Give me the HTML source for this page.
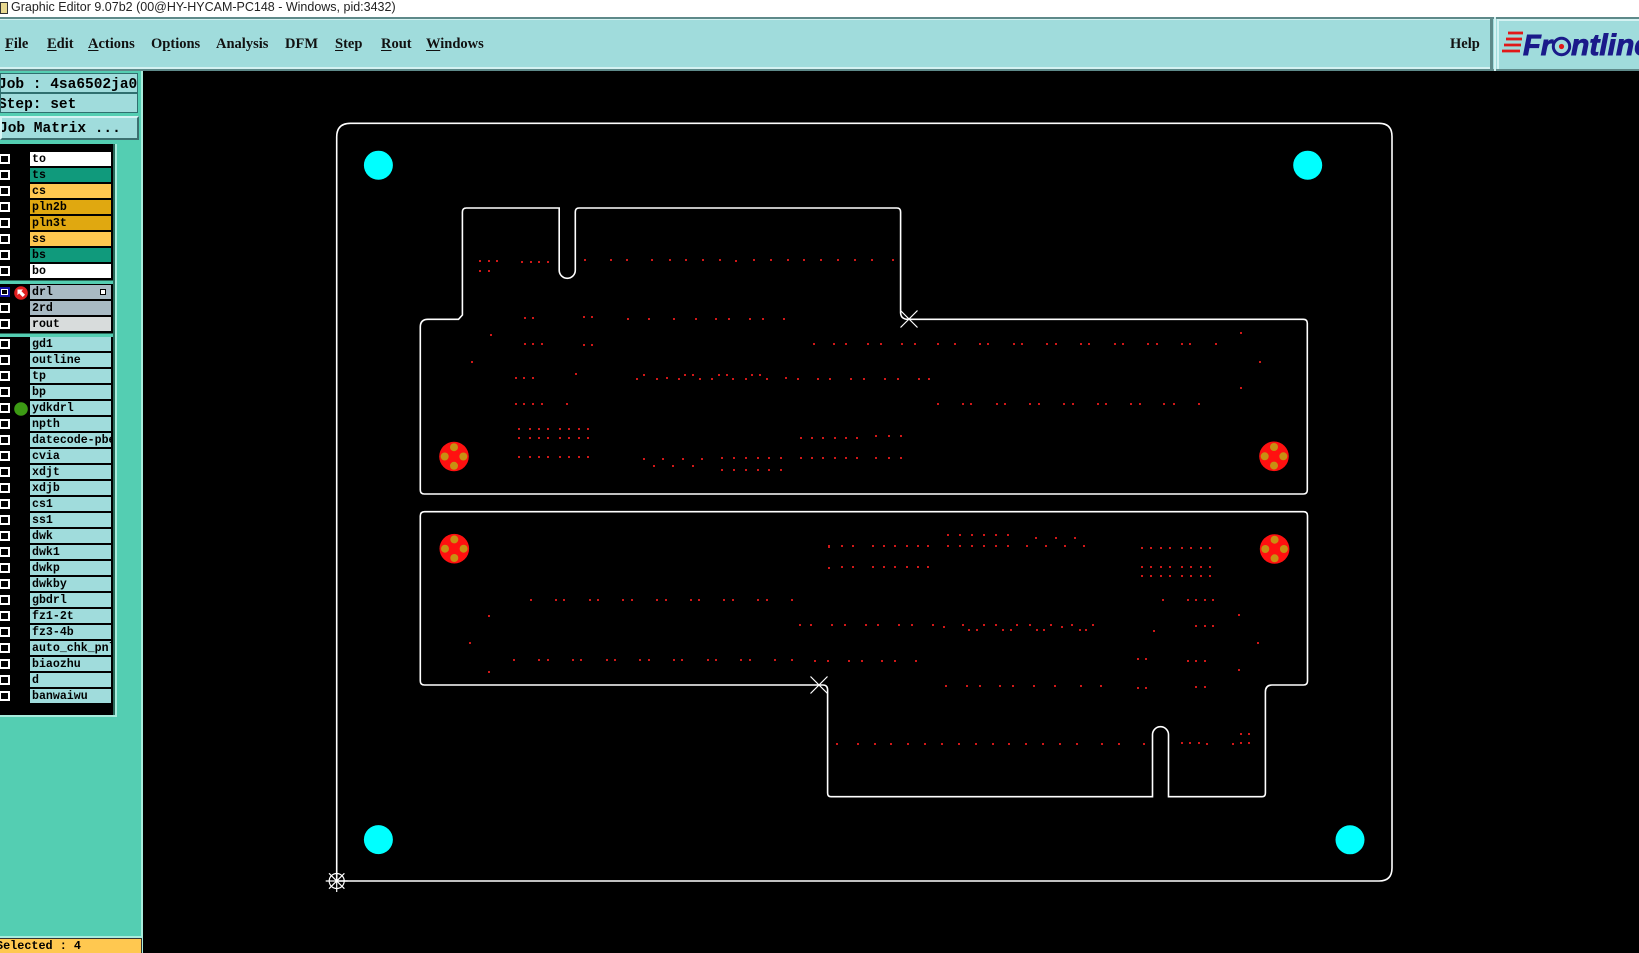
<!DOCTYPE html>
<html><head><meta charset="utf-8">
<style>
*{margin:0;padding:0;box-sizing:border-box}
html,body{width:1639px;height:953px;overflow:hidden;background:#000}
#root{position:relative;width:1639px;height:953px;overflow:hidden;background:#000}
.abs{position:absolute}
.menu{position:absolute;top:36px;font:bold 14.5px "Liberation Serif",serif;color:#111;white-space:nowrap}
.menu u{text-decoration:underline;text-underline-offset:2px}
.lbl{position:absolute;left:30px;width:81px;height:14px;font:bold 11.6px/15px "Liberation Mono",monospace;padding-left:2px;color:#000;overflow:hidden;white-space:nowrap}
.cb{position:absolute;left:-1px;width:11px;height:10px;border:2px solid #fff;background:#000}
.info{position:absolute;left:0;width:138px;background:#a0dcdc;border:1px solid #2f6f6f;font:bold 14.5px/22px "Liberation Mono",monospace;color:#000;white-space:nowrap;overflow:hidden}
</style></head><body><div id="root">

<!-- title bar -->
<div class="abs" style="left:0;top:0;width:1639px;height:17px;background:#fff"></div>
<div class="abs" style="left:0;top:2px;width:8px;height:12px;background:#e8d890;border:1px solid #333"></div>
<div class="abs" style="left:11px;top:0;font:12.5px/15px 'Liberation Sans',sans-serif;color:#222;white-space:nowrap">Graphic Editor 9.07b2 (00@HY-HYCAM-PC148 - Windows, pid:3432)</div>

<!-- menu bar -->
<div class="abs" style="left:0;top:17px;width:1639px;height:54px;background:#a0dcdc;border-top:2px solid #5e8a8a;border-bottom:2px solid #5e8a8a"></div>
<div class="abs" style="left:0;top:19px;width:1492px;height:1px;background:#d4f2f2"></div>
<div class="abs" style="left:0;top:67px;width:1492px;height:2px;background:#d4f2f2"></div>
<div class="abs" style="left:1490px;top:19px;width:3px;height:50px;background:#5e8a8a"></div>
<div class="abs" style="left:1494px;top:17px;width:2px;height:54px;background:#d4f2f2"></div>
<div class="abs" style="left:1497px;top:19px;width:142px;height:2px;background:#d4f2f2"></div>
<div class="abs" style="left:1497px;top:19px;width:2px;height:50px;background:#d4f2f2"></div>

<div class="menu" style="left:5px"><u>F</u>ile</div>
<div class="menu" style="left:47px"><u>E</u>dit</div>
<div class="menu" style="left:88px"><u>A</u>ctions</div>
<div class="menu" style="left:151px">O<u>p</u>tions</div>
<div class="menu" style="left:216px">Analysis</div>
<div class="menu" style="left:285px">DFM</div>
<div class="menu" style="left:335px"><u>S</u>tep</div>
<div class="menu" style="left:381px"><u>R</u>out</div>
<div class="menu" style="left:426px"><u>W</u>indows</div>
<div class="menu" style="left:1450px">Help</div>

<!-- logo -->
<svg class="abs" style="left:1497px;top:21px" width="142" height="48" viewBox="1497 21 142 48">
 <g stroke="#e01818" stroke-width="2.8">
  <line x1="1508" y1="33" x2="1523" y2="33"/>
  <line x1="1506" y1="39" x2="1522" y2="39"/>
  <line x1="1504" y1="45" x2="1521" y2="45"/>
  <line x1="1502" y1="51" x2="1520" y2="51"/>
 </g>
 <text x="1523" y="55" font-family="Liberation Sans, sans-serif" font-weight="bold" font-style="italic" font-size="29" fill="#1a1a8a" stroke="#1a1a8a" stroke-width="0.9">Fr</text>
 <circle cx="1561.5" cy="46.5" r="8.2" fill="none" stroke="#1a1a8a" stroke-width="3"/>
 <circle cx="1561.5" cy="46.5" r="2.6" fill="#e01818"/>
 <text x="1571" y="55" font-family="Liberation Sans, sans-serif" font-weight="bold" font-style="italic" font-size="30" fill="#1a1a8a" stroke="#1a1a8a" stroke-width="0.9">ntline</text>
</svg>

<!-- left panel -->
<div class="abs" style="left:0;top:71px;width:143px;height:882px;background:#54ceb2"></div>
<div class="abs" style="left:141px;top:71px;width:2px;height:882px;background:#a8ecdc"></div>
<div class="info" style="top:73px;height:20px;left:0"><span style="position:relative;left:-3px">Job : 4sa6502ja0</span></div>
<div class="info" style="top:93px;height:20px;left:0"><span style="position:relative;left:-3px">Step: set</span></div>
<div class="abs" style="left:0;top:116px;width:139px;height:24px;background:#a0dcdc;border-top:2px solid #d4f4f4;border-left:2px solid #d4f4f4;border-right:2px solid #3c7070;border-bottom:2px solid #3c7070;font:bold 14.5px/22px 'Liberation Mono',monospace;white-space:nowrap;overflow:hidden"><span style="position:relative;left:-3px">Job Matrix ...</span></div>

<!-- list frame -->
<div class="abs" style="left:0;top:144px;width:117px;height:573px;background:#000;border-right:2px solid #a8ecdc;border-bottom:2px solid #a8ecdc"></div>
<div class="abs" style="left:113px;top:144px;width:2px;height:571px;background:#2a6a5a"></div>
<div class="abs" style="left:0;top:280px;width:113px;height:4px;background:#54ceb2;border-top:1px solid #2a6a5a"></div>
<div class="abs" style="left:0;top:333px;width:113px;height:4px;background:#54ceb2;border-top:1px solid #2a6a5a"></div>

<!-- group 1 -->
<div class="cb" style="top:154px"></div><div class="lbl" style="top:152px;background:#fff">to</div>
<div class="cb" style="top:170px"></div><div class="lbl" style="top:168px;background:#109a7c">ts</div>
<div class="cb" style="top:186px"></div><div class="lbl" style="top:184px;background:#ffc850">cs</div>
<div class="cb" style="top:202px"></div><div class="lbl" style="top:200px;background:#e0a810">pln2b</div>
<div class="cb" style="top:218px"></div><div class="lbl" style="top:216px;background:#e0a810">pln3t</div>
<div class="cb" style="top:234px"></div><div class="lbl" style="top:232px;background:#ffc850">ss</div>
<div class="cb" style="top:250px"></div><div class="lbl" style="top:248px;background:#109a7c">bs</div>
<div class="cb" style="top:266px"></div><div class="lbl" style="top:264px;background:#fff">bo</div>
<!-- group 2 -->
<div class="cb" style="top:287px;border-color:#1414a8;background:#fff"></div>
<div class="abs" style="left:1px;top:289px;width:7px;height:6px;background:#000;border:1px solid #fff"></div>
<svg class="abs" style="left:14px;top:286px" width="14" height="14"><circle cx="7" cy="7" r="6.8" fill="#e02020"/><path d="M3.5 3.5 L9 3.5 L7.4 5.1 L11 8.7 L8.7 11 L5.1 7.4 L3.5 9 Z" fill="#fff"/></svg>
<div class="lbl" style="top:285px;background:#a8bac4">drl<span style="position:absolute;left:70px;top:4px;width:6px;height:6px;border:1px solid #000;background:#fff"></span></div>
<div class="cb" style="top:303px"></div><div class="lbl" style="top:301px;background:#a8bac4">2rd</div>
<div class="cb" style="top:319px"></div><div class="lbl" style="top:317px;background:#d8dcdc">rout</div>
<!-- group 3 -->
<div class="cb" style="top:339px"></div><div class="lbl" style="top:337px;background:#a0dcdc">gd1</div>
<div class="cb" style="top:355px"></div><div class="lbl" style="top:353px;background:#a0dcdc">outline</div>
<div class="cb" style="top:371px"></div><div class="lbl" style="top:369px;background:#a0dcdc">tp</div>
<div class="cb" style="top:387px"></div><div class="lbl" style="top:385px;background:#a0dcdc">bp</div>
<div class="cb" style="top:403px"></div><div class="lbl" style="top:401px;background:#a0dcdc">ydkdrl</div>
<svg class="abs" style="left:14px;top:402px" width="14" height="14"><circle cx="7" cy="7" r="6.8" fill="#3c9a14"/></svg>
<div class="cb" style="top:419px"></div><div class="lbl" style="top:417px;background:#a0dcdc">npth</div>
<div class="cb" style="top:435px"></div><div class="lbl" style="top:433px;background:#a0dcdc">datecode-pbe</div>
<div class="cb" style="top:451px"></div><div class="lbl" style="top:449px;background:#a0dcdc">cvia</div>
<div class="cb" style="top:467px"></div><div class="lbl" style="top:465px;background:#a0dcdc">xdjt</div>
<div class="cb" style="top:483px"></div><div class="lbl" style="top:481px;background:#a0dcdc">xdjb</div>
<div class="cb" style="top:499px"></div><div class="lbl" style="top:497px;background:#a0dcdc">cs1</div>
<div class="cb" style="top:515px"></div><div class="lbl" style="top:513px;background:#a0dcdc">ss1</div>
<div class="cb" style="top:531px"></div><div class="lbl" style="top:529px;background:#a0dcdc">dwk</div>
<div class="cb" style="top:547px"></div><div class="lbl" style="top:545px;background:#a0dcdc">dwk1</div>
<div class="cb" style="top:563px"></div><div class="lbl" style="top:561px;background:#a0dcdc">dwkp</div>
<div class="cb" style="top:579px"></div><div class="lbl" style="top:577px;background:#a0dcdc">dwkby</div>
<div class="cb" style="top:595px"></div><div class="lbl" style="top:593px;background:#a0dcdc">gbdrl</div>
<div class="cb" style="top:611px"></div><div class="lbl" style="top:609px;background:#a0dcdc">fz1-2t</div>
<div class="cb" style="top:627px"></div><div class="lbl" style="top:625px;background:#a0dcdc">fz3-4b</div>
<div class="cb" style="top:643px"></div><div class="lbl" style="top:641px;background:#a0dcdc">auto_chk_pnl</div>
<div class="cb" style="top:659px"></div><div class="lbl" style="top:657px;background:#a0dcdc">biaozhu</div>
<div class="cb" style="top:675px"></div><div class="lbl" style="top:673px;background:#a0dcdc">d</div>
<div class="cb" style="top:691px"></div><div class="lbl" style="top:689px;background:#a0dcdc">banwaiwu</div>

<!-- status -->
<div class="abs" style="left:0;top:936px;width:143px;height:2px;background:#a8ecdc"></div>
<div class="abs" style="left:0;top:938px;width:142px;height:15px;background:#ffc850;border-top:1px solid #333;border-right:1px solid #333;font:bold 11.8px/14px 'Liberation Mono',monospace;white-space:nowrap;overflow:hidden"><span style="position:relative;left:-4px">Selected : 4</span></div>

<!-- board -->
<svg class="abs" style="left:0;top:0" width="1639" height="953" viewBox="0 0 1639 953">
 <g fill="none" stroke="#fff" stroke-width="1.6">
  <path d="M336.7 881 L336.7 137 Q336.7 123.3 350.5 123.3 L1379 123.3 Q1392 123.3 1392 136.5 L1392 868 Q1392 881 1379 881 Z"/>
  <path d="M462.4 212 Q462.4 208 466.4 208 L559.2 208 L559.2 270.3 A8 8 0 0 0 575.3 270.3 L575.3 212 Q575.3 208 579 208 L897 208 Q900.6 208 900.6 212 L900.6 313 Q901 319.3 908 319.3 L1303.3 319.3 Q1307.3 319.3 1307.3 323.3 L1307.3 490 Q1307.3 494 1303.3 494 L424.3 494 Q420.3 494 420.3 490 L420.3 327 Q420.3 319.3 428 319.3 L458.5 319.3 L462.4 315 Z"/>
  <path d="M420.3 516 Q420.3 511.7 424.5 511.7 L1303.5 511.7 Q1307.5 511.7 1307.5 515.7 L1307.5 681 Q1307.5 685 1303.5 685 L1272 685 Q1265.4 685 1265.4 692 L1265.4 793 Q1265.4 796.7 1262 796.7 L1168.5 796.7 L1168.5 734.7 A8 8 0 0 0 1152.5 734.7 L1152.5 796.7 L831 796.7 Q827.6 796.7 827.6 793 L827.6 690 Q827.6 685 823 685 L424.5 685 Q420.3 685 420.3 681 Z"/>
 </g>
 <g stroke="#fff" stroke-width="1.2">
  <line x1="900.5" y1="310.5" x2="917.5" y2="327.5"/><line x1="917.5" y1="310.5" x2="900.5" y2="327.5"/>
  <line x1="810.5" y1="676.5" x2="827.5" y2="693.5"/><line x1="827.5" y1="676.5" x2="810.5" y2="693.5"/>
  <circle cx="336.7" cy="881" r="7.5" fill="none"/>
  <line x1="336.7" y1="870" x2="336.7" y2="892"/><line x1="325.7" y1="881" x2="347.7" y2="881"/>
  <line x1="329" y1="873.3" x2="344.4" y2="888.7"/><line x1="344.4" y1="873.3" x2="329" y2="888.7"/>
 </g>
 <g fill="#00ffff">
  <circle cx="378.4" cy="165.2" r="14.5"/><circle cx="1307.7" cy="165.2" r="14.5"/>
  <circle cx="378.4" cy="839.6" r="14.5"/><circle cx="1350" cy="839.8" r="14.5"/>
 </g>
 <g>
  <g transform="translate(454,456.5)"><circle r="14.8" fill="#ff1010"/><g fill="#c89012"><circle cx="0" cy="-9.3" r="4"/><circle cx="0" cy="9.3" r="4"/><circle cx="-9.3" cy="0" r="4"/><circle cx="9.3" cy="0" r="4"/></g></g>
  <g transform="translate(1274,456.3)"><circle r="14.8" fill="#ff1010"/><g fill="#c89012"><circle cx="0" cy="-9.3" r="4"/><circle cx="0" cy="9.3" r="4"/><circle cx="-9.3" cy="0" r="4"/><circle cx="9.3" cy="0" r="4"/></g></g>
  <g transform="translate(454.3,548.7)"><circle r="14.8" fill="#ff1010"/><g fill="#c89012"><circle cx="0" cy="-9.3" r="4"/><circle cx="0" cy="9.3" r="4"/><circle cx="-9.3" cy="0" r="4"/><circle cx="9.3" cy="0" r="4"/></g></g>
  <g transform="translate(1274.6,549)"><circle r="14.8" fill="#ff1010"/><g fill="#c89012"><circle cx="0" cy="-9.3" r="4"/><circle cx="0" cy="9.3" r="4"/><circle cx="-9.3" cy="0" r="4"/><circle cx="9.3" cy="0" r="4"/></g></g>
 </g>
 <path fill="#d01818" d="
M479 260h2v2h-2zM488 260h2v2h-2zM496 260h2v2h-2zM521 261h2v2h-2zM530 261h2v2h-2zM538 261h2v2h-2zM547 261h2v2h-2zM584 259h2v2h-2zM610 259h2v2h-2zM626 259h2v2h-2zM651 259h2v2h-2zM669 259h2v2h-2zM685 259h2v2h-2zM702 259h2v2h-2zM719 259h2v2h-2zM735 260h2v2h-2zM753 259h2v2h-2zM770 259h2v2h-2zM787 259h2v2h-2zM803 259h2v2h-2zM820 259h2v2h-2zM837 259h2v2h-2zM854 259h2v2h-2zM871 259h2v2h-2zM892 259h2v2h-2z
M479 270h2v2h-2zM488 270h2v2h-2z
M524 317h2v2h-2zM532 317h2v2h-2zM583 316h2v2h-2zM591 316h2v2h-2zM627 318h2v2h-2zM648 318h2v2h-2zM673 318h2v2h-2zM695 318h2v2h-2zM715 318h2v2h-2zM728 318h2v2h-2zM749 318h2v2h-2zM762 318h2v2h-2zM783 318h2v2h-2z
M490 334h2v2h-2z
M524 343h2v2h-2zM532 343h2v2h-2zM541 343h2v2h-2zM583 344h2v2h-2zM591 344h2v2h-2zM813 343h2v2h-2zM833 343h2v2h-2zM845 343h2v2h-2zM867 343h2v2h-2zM880 343h2v2h-2zM901 343h2v2h-2zM914 343h2v2h-2zM937 343h2v2h-2zM954 343h2v2h-2zM979 343h2v2h-2zM987 343h2v2h-2zM1013 343h2v2h-2zM1021 343h2v2h-2zM1046 343h2v2h-2zM1055 343h2v2h-2zM1080 343h2v2h-2zM1088 343h2v2h-2zM1114 343h2v2h-2zM1122 343h2v2h-2zM1147 343h2v2h-2zM1156 343h2v2h-2zM1181 343h2v2h-2zM1189 343h2v2h-2zM1215 343h2v2h-2z
M1240 332h2v2h-2zM1259 361h2v2h-2zM1240 387h2v2h-2zM471 361h2v2h-2zM575 373h2v2h-2z
M515 377h2v2h-2zM523 377h2v2h-2zM532 377h2v2h-2zM636 378h2v2h-2zM656 378h2v2h-2zM666 377h2v2h-2zM678 378h2v2h-2zM699 378h2v2h-2zM711 378h2v2h-2zM732 378h2v2h-2zM745 378h2v2h-2zM766 378h2v2h-2zM785 377h2v2h-2zM797 378h2v2h-2zM817 378h2v2h-2zM829 378h2v2h-2zM850 378h2v2h-2zM863 378h2v2h-2zM884 378h2v2h-2zM897 378h2v2h-2zM918 378h2v2h-2zM928 378h2v2h-2z
M643 374h2v2h-2zM684 374h2v2h-2zM692 374h2v2h-2zM718 374h2v2h-2zM726 374h2v2h-2zM751 374h2v2h-2zM759 374h2v2h-2z
M515 403h2v2h-2zM523 403h2v2h-2zM532 403h2v2h-2zM541 403h2v2h-2zM566 403h2v2h-2zM937 403h2v2h-2zM962 403h2v2h-2zM970 403h2v2h-2zM996 403h2v2h-2zM1004 403h2v2h-2zM1029 403h2v2h-2zM1038 403h2v2h-2zM1063 403h2v2h-2zM1072 403h2v2h-2zM1097 403h2v2h-2zM1105 403h2v2h-2zM1130 403h2v2h-2zM1139 403h2v2h-2zM1163 403h2v2h-2zM1173 403h2v2h-2zM1198 403h2v2h-2z
M518 428h2v2h-2zM529 428h2v2h-2zM538 428h2v2h-2zM547 428h2v2h-2zM559 428h2v2h-2zM568 428h2v2h-2zM578 428h2v2h-2zM587 428h2v2h-2z
M518 437h2v2h-2zM529 437h2v2h-2zM538 437h2v2h-2zM547 437h2v2h-2zM559 437h2v2h-2zM568 437h2v2h-2zM578 437h2v2h-2zM587 437h2v2h-2zM800 437h2v2h-2zM811 437h2v2h-2zM822 437h2v2h-2zM834 437h2v2h-2zM845 437h2v2h-2zM856 437h2v2h-2zM875 435h2v2h-2zM888 435h2v2h-2zM900 435h2v2h-2z
M518 456h2v2h-2zM529 456h2v2h-2zM538 456h2v2h-2zM547 456h2v2h-2zM559 456h2v2h-2zM568 456h2v2h-2zM578 456h2v2h-2zM587 456h2v2h-2zM721 457h2v2h-2zM733 457h2v2h-2zM745 457h2v2h-2zM757 457h2v2h-2zM768 457h2v2h-2zM780 457h2v2h-2zM800 457h2v2h-2zM811 457h2v2h-2zM822 457h2v2h-2zM834 457h2v2h-2zM845 457h2v2h-2zM856 457h2v2h-2zM875 457h2v2h-2zM888 457h2v2h-2zM900 457h2v2h-2zM643 458h2v2h-2zM662 458h2v2h-2zM682 458h2v2h-2zM701 458h2v2h-2z
M653 465h2v2h-2zM672 465h2v2h-2zM692 465h2v2h-2z
M721 469h2v2h-2zM733 469h2v2h-2zM745 469h2v2h-2zM757 469h2v2h-2zM768 469h2v2h-2zM780 469h2v2h-2z
M828 546h2v2h-2zM828 567h2v2h-2zM1238 614h2v2h-2zM488 615h2v2h-2zM469 642h2v2h-2zM488 671h2v2h-2zM1153 630h2v2h-2zM1257 642h2v2h-2zM1238 669h2v2h-2zM1240 733h2v2h-2zM1248 733h2v2h-2z
M947 534h2v2h-2zM959 534h2v2h-2zM971 534h2v2h-2zM983 534h2v2h-2zM995 534h2v2h-2zM1007 534h2v2h-2z
M1035 537h2v2h-2zM1055 537h2v2h-2zM1074 537h2v2h-2z
M828 545h2v2h-2zM841 545h2v2h-2zM852 545h2v2h-2zM872 545h2v2h-2zM883 545h2v2h-2zM894 545h2v2h-2zM906 545h2v2h-2zM917 545h2v2h-2zM927 545h2v2h-2zM947 545h2v2h-2zM959 545h2v2h-2zM971 545h2v2h-2zM983 545h2v2h-2zM995 545h2v2h-2zM1007 545h2v2h-2zM1026 545h2v2h-2zM1045 545h2v2h-2zM1064 545h2v2h-2zM1083 545h2v2h-2z
M1141 547h2v2h-2zM1150 547h2v2h-2zM1160 547h2v2h-2zM1169 547h2v2h-2zM1181 547h2v2h-2zM1190 547h2v2h-2zM1200 547h2v2h-2zM1209 547h2v2h-2z
M841 566h2v2h-2zM852 566h2v2h-2zM872 566h2v2h-2zM883 566h2v2h-2zM894 566h2v2h-2zM906 566h2v2h-2zM917 566h2v2h-2zM927 566h2v2h-2zM1141 566h2v2h-2zM1150 566h2v2h-2zM1160 566h2v2h-2zM1169 566h2v2h-2zM1181 566h2v2h-2zM1190 566h2v2h-2zM1200 566h2v2h-2zM1209 566h2v2h-2z
M1141 575h2v2h-2zM1150 575h2v2h-2zM1160 575h2v2h-2zM1169 575h2v2h-2zM1181 575h2v2h-2zM1190 575h2v2h-2zM1200 575h2v2h-2zM1209 575h2v2h-2z
M530 599h2v2h-2zM555 599h2v2h-2zM563 599h2v2h-2zM589 599h2v2h-2zM597 599h2v2h-2zM622 599h2v2h-2zM631 599h2v2h-2zM656 599h2v2h-2zM665 599h2v2h-2zM690 599h2v2h-2zM698 599h2v2h-2zM723 599h2v2h-2zM732 599h2v2h-2zM757 599h2v2h-2zM766 599h2v2h-2zM791 599h2v2h-2zM1162 599h2v2h-2zM1187 599h2v2h-2zM1195 599h2v2h-2zM1204 599h2v2h-2zM1212 599h2v2h-2z
M799 624h2v2h-2zM810 624h2v2h-2zM831 624h2v2h-2zM844 624h2v2h-2zM865 624h2v2h-2zM877 624h2v2h-2zM898 624h2v2h-2zM911 624h2v2h-2zM932 624h2v2h-2zM962 624h2v2h-2zM983 624h2v2h-2zM995 624h2v2h-2zM1016 624h2v2h-2zM1029 624h2v2h-2zM1050 624h2v2h-2zM1071 624h2v2h-2zM1092 624h2v2h-2zM943 626h2v2h-2zM1061 626h2v2h-2zM1195 625h2v2h-2zM1204 625h2v2h-2zM1212 625h2v2h-2z
M968 629h2v2h-2zM976 629h2v2h-2zM1002 629h2v2h-2zM1010 629h2v2h-2zM1036 629h2v2h-2zM1043 629h2v2h-2zM1079 629h2v2h-2zM1085 629h2v2h-2z
M513 659h2v2h-2zM538 659h2v2h-2zM547 659h2v2h-2zM572 659h2v2h-2zM580 659h2v2h-2zM606 659h2v2h-2zM614 659h2v2h-2zM639 659h2v2h-2zM648 659h2v2h-2zM673 659h2v2h-2zM681 659h2v2h-2zM707 659h2v2h-2zM715 659h2v2h-2zM740 659h2v2h-2zM749 659h2v2h-2zM774 659h2v2h-2zM791 659h2v2h-2zM814 660h2v2h-2zM827 660h2v2h-2zM848 660h2v2h-2zM861 660h2v2h-2zM881 660h2v2h-2zM894 660h2v2h-2zM915 660h2v2h-2zM1137 658h2v2h-2zM1145 658h2v2h-2zM1187 660h2v2h-2zM1195 660h2v2h-2zM1204 660h2v2h-2z
M945 685h2v2h-2zM966 685h2v2h-2zM979 685h2v2h-2zM999 685h2v2h-2zM1012 685h2v2h-2zM1033 685h2v2h-2zM1054 685h2v2h-2zM1080 685h2v2h-2zM1100 685h2v2h-2zM1137 687h2v2h-2zM1145 687h2v2h-2zM1195 686h2v2h-2zM1204 686h2v2h-2z
M836 743h2v2h-2zM857 743h2v2h-2zM874 743h2v2h-2zM890 743h2v2h-2zM907 743h2v2h-2zM924 743h2v2h-2zM941 743h2v2h-2zM958 743h2v2h-2zM975 743h2v2h-2zM992 743h2v2h-2zM1008 743h2v2h-2zM1025 743h2v2h-2zM1042 743h2v2h-2zM1059 743h2v2h-2zM1076 743h2v2h-2zM1101 743h2v2h-2zM1118 743h2v2h-2zM1143 743h2v2h-2zM1181 742h2v2h-2zM1189 742h2v2h-2zM1198 742h2v2h-2zM1206 743h2v2h-2zM1232 743h2v2h-2zM1240 742h2v2h-2zM1248 742h2v2h-2z"/>
</svg>

</div></body></html>
